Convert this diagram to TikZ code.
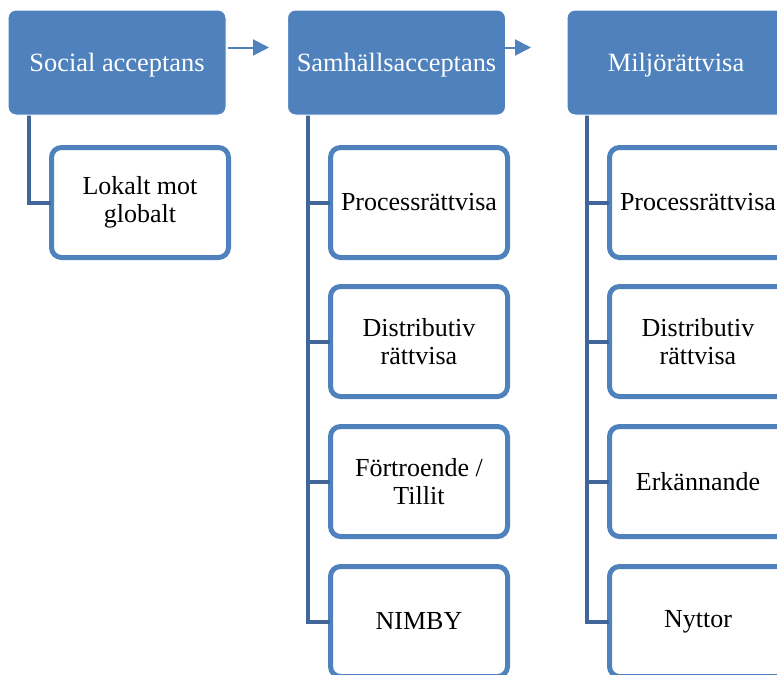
\documentclass[tikz,border=0pt]{standalone}
\usepackage{fontspec}
\setmainfont{Liberation Serif}
\usetikzlibrary{arrows.meta}
\definecolor{boxblue}{RGB}{79,129,189}
\definecolor{linkblue}{RGB}{65,103,154}
\begin{document}
\begin{tikzpicture}[x=1pt,y=-1pt,
  header/.style={rectangle,rounded corners=8pt,fill=boxblue,draw=white,line width=1pt,
    minimum width=218pt,minimum height=105pt,text=white,font=\fontsize{26.4}{30}\selectfont,
    inner sep=0pt,text height=19pt,text depth=2pt},
  child/.style={rectangle,rounded corners=10pt,fill=white,draw=boxblue,line width=5pt,
    minimum width=177pt,minimum height=110pt,text=black,align=center,
    font=\fontsize{26}{28}\selectfont,inner sep=0pt},
  link/.style={draw=linkblue,line width=4pt,line join=miter,line cap=rect},
  flow/.style={draw=boxblue,line width=2pt,-{Triangle[length=16pt,width=16pt]}}]
\useasboundingbox (0,0) rectangle (777,675);
% child boxes
\node[child] (c1) at (140,202.5) {Lokalt mot\\globalt};
\node[child] (c21) at (419,202.5) {Processrättvisa};
\node[child] (c22) at (419,341.5) {Distributiv\\rättvisa};
\node[child] (c23) at (419,481.5) {Förtroende /\\Tillit};
\node[child] (c24) at (419,621.5) {NIMBY};
\node[child] (c31) at (698,202.5) {Processrättvisa};
\node[child] (c32) at (698,341.5) {Distributiv\\rättvisa};
\node[child] (c33) at (698,481.5) {Erkännande};
\node[child] (c34) at (698,621.5) {Nyttor};
% anchors for links
\coordinate (t1) at (28.5,116);
\coordinate (t2) at (308,116);
\coordinate (t3) at (587,116);
\draw[link] (t1) |- (c1.west);
\draw[link] (t2) |- (c24.west);
\draw[link] (t2) |- (c21.west);
\draw[link] (t2) |- (c22.west);
\draw[link] (t2) |- (c23.west);
\draw[link] (t3) |- (c34.west);
\draw[link] (t3) |- (c31.west);
\draw[link] (t3) |- (c32.west);
\draw[link] (t3) |- (c33.west);
% headers
\node[header] (h1) at (117,62.5) {Social acceptans};
\node[header] (h2) at (396.5,62.5) {Samhällsacceptans};
\node[header] (h3) at (676,62.5) {Miljörättvisa};
% flow arrows
\coordinate (a1s) at (228,47.5);
\coordinate (a1e) at (269,47.5);
\coordinate (a2s) at (490,47.5);
\coordinate (a2e) at (531,47.5);
\draw[flow] (a1s) -- (a1e);
\draw[flow] (a2s) -- (a2e);
\end{tikzpicture}
\end{document}
